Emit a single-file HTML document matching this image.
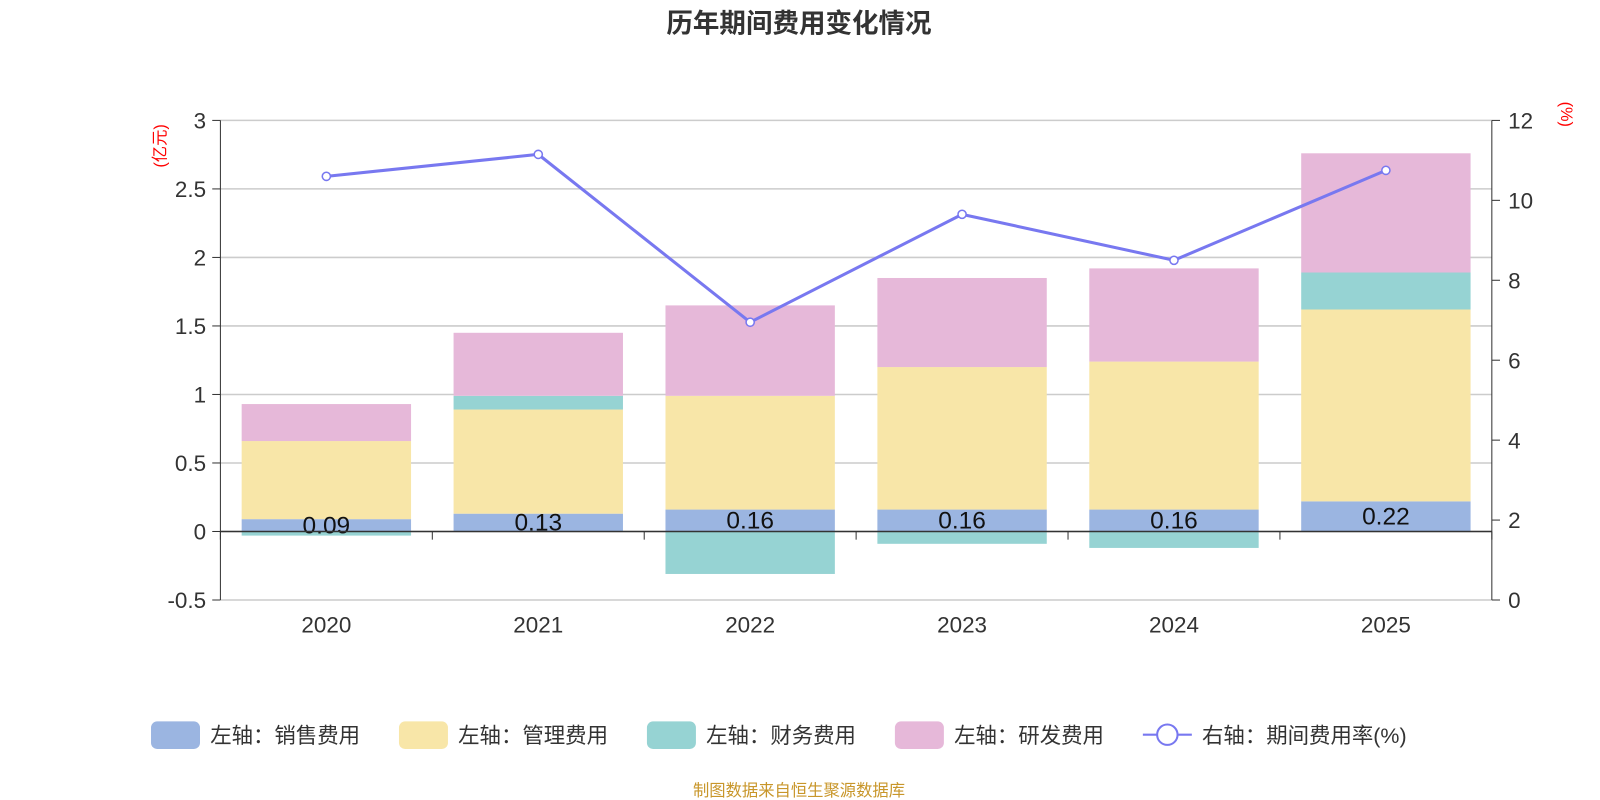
<!DOCTYPE html>
<html><head><meta charset="utf-8"><style>
body{margin:0;background:#fff;}
svg{display:block;font-family:"Liberation Sans","Noto Sans CJK SC",sans-serif;}
</style></head><body>
<svg id="c" width="1600" height="800" viewBox="0 0 1568 784"></svg>
<script>
const years=["2020","2021","2022","2023","2024","2025"];
const sales=[0.09,0.13,0.16,0.16,0.16,0.22];
const mgmt=[0.57,0.76,0.83,1.04,1.08,1.40];
const fin=[-0.03,0.10,-0.31,-0.09,-0.12,0.27];
const rnd=[0.27,0.46,0.66,0.65,0.68,0.87];
const rate=[10.6,11.15,6.95,9.65,8.5,10.75];
const leftTicks=[-0.5,0,0.5,1,1.5,2,2.5,3];
const rightTicks=[0,2,4,6,8,10,12];
const NS="http://www.w3.org/2000/svg";
const svg=document.getElementById('c');
const X0=216,X1=1462,YT=118,YB=588;
const yL=v=>YT+(3-v)/3.5*(YB-YT);
const yR=v=>YB-v/12*(YB-YT);
const bw=(X1-X0)/years.length;
const xC=i=>X0+bw*(i+0.5);
function el(t,a,txt){const e=document.createElementNS(NS,t);for(const k in a)e.setAttribute(k,a[k]);if(txt!=null)e.textContent=txt;svg.appendChild(e);return e;}
let e;
e=el('text',{x:783,y:32,'text-anchor':'middle','font-size':26,'font-weight':'bold',fill:'#333'},'历年期间费用变化情况');

leftTicks.forEach(v=>{
 e=el('line',{x1:X0,x2:X1,y1:yL(v),y2:yL(v),stroke:'#ccc','stroke-width':1.5});
 
 e=el('line',{x1:X0-8,x2:X0,y1:yL(v),y2:yL(v),stroke:'#333'});
 e=el('text',{x:X0-14,y:yL(v)+8,'text-anchor':'end','font-size':22,fill:'#333'},String(v));
 
});
rightTicks.forEach(v=>{
 e=el('line',{x1:X1,x2:X1+8,y1:yR(v),y2:yR(v),stroke:'#333'});
 e=el('text',{x:X1+16,y:yR(v)+8,'font-size':22,fill:'#333'},String(v));
 
});
e=el('line',{x1:X0,x2:X0,y1:YT,y2:YB,stroke:'#333'});
e=el('line',{x1:X1,x2:X1,y1:YT,y2:YB,stroke:'#333'});
e=el('text',{x:0,y:0,'font-size':16,fill:'red','text-anchor':'middle',transform:'translate(162,143) rotate(-90)'},'(亿元)');

e=el('text',{x:0,y:0,'font-size':16,fill:'red','text-anchor':'middle',transform:'translate(1530,112) rotate(90)'},'(%)');

const cols=['#9bb5e1','#f8e6a8','#96d3d3','#e6b8d9'];
const series=[sales,mgmt,fin,rnd];
const names=['sales','mgmt','finance','rnd'];
years.forEach((y,i)=>{
 let pos=0,neg=0;
 series.forEach((s,k)=>{
  const v=s[i];let a,b;
  if(v>=0){a=pos;b=pos+v;pos=b;}else{a=neg;b=neg+v;neg=b;}
  const top=Math.min(yL(a),yL(b)),h=Math.abs(yL(a)-yL(b));
  e=el('rect',{x:xC(i)-83,y:top,width:166,height:h,fill:cols[k]});
  
 });
 e=el('text',{x:xC(i),y:(yL(0)+yL(sales[i]))/2+8,'text-anchor':'middle','font-size':24,fill:'#111'},sales[i].toFixed(2));
 
 e=el('text',{x:xC(i),y:620,'text-anchor':'middle','font-size':22,fill:'#333'},y);
 
});
e=el('line',{x1:X0,x2:X1,y1:yL(0),y2:yL(0),stroke:'#333','stroke-width':1.5});

for(let i=0;i<=years.length;i++){el('line',{x1:X0+bw*i,x2:X0+bw*i,y1:yL(0),y2:yL(0)+8,stroke:'#333'});}
e=el('polyline',{points:rate.map((v,i)=>xC(i)+','+yR(v)).join(' '),fill:'none',stroke:'#7878f0','stroke-width':3});

rate.forEach((v,i)=>{e=el('circle',{cx:xC(i),cy:yR(v),r:4,fill:'#fff',stroke:'#7878f0','stroke-width':1.5});
 });
const leg=[['左轴：销售费用',148],['左轴：管理费用',391],['左轴：财务费用',634],['左轴：研发费用',877]];
leg.forEach((l,k)=>{
 e=el('rect',{x:l[1],y:707,width:48,height:27,rx:6,fill:cols[k]});
 
 e=el('text',{x:l[1]+58,y:728,'font-size':21,fill:'#333'},l[0]);
 
});
el('line',{x1:1120,x2:1168,y1:720,y2:720,stroke:'#7878f0','stroke-width':2});
e=el('circle',{cx:1144,cy:720,r:10,fill:'#fff',stroke:'#7878f0','stroke-width':2});

e=el('text',{x:1178,y:728,'font-size':21,fill:'#333'},'右轴：期间费用率(%)');

e=el('text',{x:783,y:780,'text-anchor':'middle','font-size':16,fill:'#c8962a'},'制图数据来自恒生聚源数据库');

</script>
</body></html>
